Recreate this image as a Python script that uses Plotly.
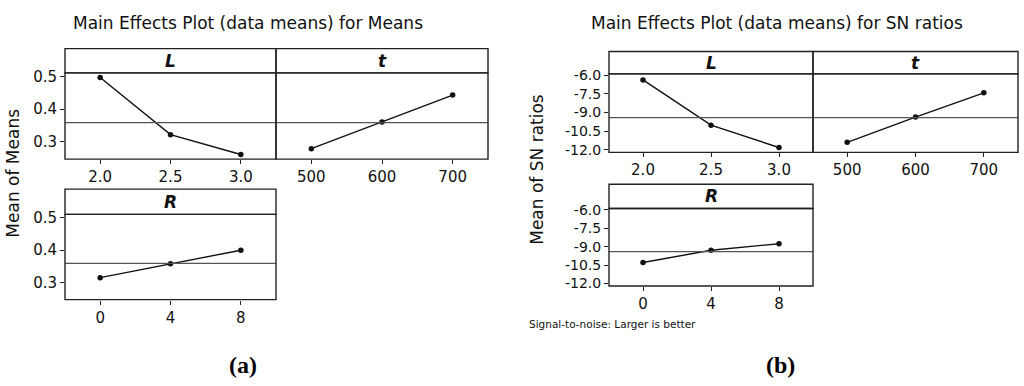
import plotly.graph_objects as go

# ---------------- data ----------------
L_levels = [2.0, 2.5, 3.0]
t_levels = [500, 600, 700]
R_levels = [0, 4, 8]

means_L = [0.497, 0.322, 0.261]
means_t = [0.279, 0.361, 0.443]
means_R = [0.315, 0.358, 0.400]
grand_mean_means = 0.359

sn_L = [-6.39, -10.02, -11.81]
sn_t = [-11.40, -9.37, -7.42]
sn_R = [-10.29, -9.29, -8.76]
grand_mean_sn = -9.41

means_yticks = [0.3, 0.4, 0.5]
means_yticklabels = ["0.3", "0.4", "0.5"]
sn_yticks = [-12.0, -10.5, -9.0, -7.5, -6.0]
sn_yticklabels = ["-12.0", "-10.5", "-9.0", "-7.5", "-6.0"]
L_ticklabels = ["2.0", "2.5", "3.0"]
t_ticklabels = ["500", "600", "700"]
R_ticklabels = ["0", "4", "8"]

# ---------------- layout helpers ----------------
W, H = 1024, 386
FONT = "DejaVu Sans"
LINE = "#222222"
BOXW = 1.4


def px_x(a, b):
    return [a / W, b / W]


def px_y(top, bottom):
    return [1 - bottom / H, 1 - top / H]


fig = go.Figure()

panels = [
    (1, (65, 276), (68, 157), 43, "L", L_levels, means_L, L_ticklabels, [1.75, 3.25], "means", True),
    (2, (276, 488), (68, 157), 43, "t", t_levels, means_t, t_ticklabels, [450, 750], "means", False),
    (3, (65, 276), (214, 302), 188, "R", R_levels, means_R, R_ticklabels, [-2, 10], "means", True),
    (4, (609, 813), (69, 150), 46, "L", L_levels, sn_L, L_ticklabels, [1.75, 3.25], "sn", True),
    (5, (813, 1018), (69, 150), 46, "t", t_levels, sn_t, t_ticklabels, [450, 750], "sn", False),
    (6, (609, 813), (208, 288), 183, "R", R_levels, sn_R, R_ticklabels, [-2, 10], "sn", True),
]

shapes = []
annotations = []

for idx, xb, yb, strip_top, label, xv, yv, xtl, xr, kind, showy in panels:
    sfx = "" if idx == 1 else str(idx)
    xname, yname = "xaxis" + sfx, "yaxis" + sfx
    xref, yref = "x" + sfx, "y" + sfx
    if kind == "means":
        yrange = [0.247, 0.511]
        ytv, ytt = means_yticks, means_yticklabels
        gm = grand_mean_means
        ysize = 15
    else:
        yrange = [-12.2, -5.9]
        ytv, ytt = sn_yticks, sn_yticklabels
        gm = grand_mean_sn
        ysize = 14

    fig.add_trace(go.Scatter(
        x=xv, y=yv, xaxis=xref, yaxis=yref, mode="lines+markers",
        line=dict(color="#111111", width=1.4),
        marker=dict(color="#111111", size=5.5),
        showlegend=False, hoverinfo="x+y", cliponaxis=False,
    ))

    fig.layout[xname] = dict(
        domain=px_x(*xb), range=xr, anchor=yref,
        tickvals=xv, ticktext=xtl, ticks="outside", ticklen=4, tickcolor=LINE,
        tickwidth=1.2, showline=False,
        showgrid=False, zeroline=False,
        tickfont=dict(family=FONT, size=15, color="#111111"),
    )
    fig.layout[yname] = dict(
        domain=px_y(*yb), range=yrange, anchor=xref,
        tickvals=ytv, ticktext=ytt,
        ticks="outside" if showy else "", ticklen=4, tickcolor=LINE, tickwidth=1.2,
        showticklabels=showy, showline=False,
        showgrid=False, zeroline=False,
        tickfont=dict(family=FONT, size=ysize, color="#111111"),
    )

    # grand-mean reference line
    shapes.append(dict(type="line", xref=xref + " domain", yref=yref,
                       x0=0, x1=1, y0=gm, y1=gm,
                       line=dict(color="#555555", width=1.2)))
    # data-area box
    shapes.append(dict(type="rect", xref="paper", yref="paper",
                       x0=xb[0] / W, x1=xb[1] / W,
                       y0=1 - yb[1] / H, y1=1 - yb[0] / H,
                       line=dict(color=LINE, width=BOXW), fillcolor="rgba(0,0,0,0)"))
    # strip box
    shapes.append(dict(type="rect", xref="paper", yref="paper",
                       x0=xb[0] / W, x1=xb[1] / W,
                       y0=1 - yb[0] / H, y1=1 - strip_top / H,
                       line=dict(color=LINE, width=BOXW), fillcolor="rgba(0,0,0,0)"))
    annotations.append(dict(
        text="<b><i>%s</i></b>" % label, xref="paper", yref="paper",
        x=(xb[0] + xb[1]) / 2 / W, y=1 - (strip_top + yb[0]) / 2 / H,
        showarrow=False, xanchor="center", yanchor="middle",
        font=dict(family=FONT, size=17, color="#111111"),
    ))

# titles and labels
extra = [
    dict(text="Main Effects Plot (data means) for Means", x=248 / W, y=1 - 16 / H,
         font=dict(family=FONT, size=17, color="#111111")),
    dict(text="Main Effects Plot (data means) for SN ratios", x=777 / W, y=1 - 16 / H,
         font=dict(family=FONT, size=17, color="#111111")),
    dict(text="Mean of Means", x=13 / W, y=1 - 172 / H, textangle=-90,
         font=dict(family=FONT, size=17, color="#111111")),
    dict(text="Mean of SN ratios", x=537 / W, y=1 - 168 / H, textangle=-90,
         font=dict(family=FONT, size=17, color="#111111")),
    dict(text="Signal-to-noise: Larger is better", x=527 / W, y=1 - 327 / H, xanchor="left",
         font=dict(family=FONT, size=10.5, color="#111111")),
    dict(text="<b>(a)</b>", x=243 / W, y=1 - 369 / H,
         font=dict(family="Liberation Serif", size=24, color="#000000")),
    dict(text="<b>(b)</b>", x=780 / W, y=1 - 369 / H,
         font=dict(family="Liberation Serif", size=24, color="#000000")),
]
for a in extra:
    a.setdefault("xref", "paper")
    a.setdefault("yref", "paper")
    a.setdefault("showarrow", False)
    a.setdefault("xanchor", "center")
    a.setdefault("yanchor", "middle")
annotations += extra

fig.update_layout(
    width=W, height=H, margin=dict(l=0, r=0, t=0, b=0),
    paper_bgcolor="white", plot_bgcolor="white",
    shapes=shapes, annotations=annotations, showlegend=False,
    font=dict(family=FONT),
)

fig.write_html(
    "out.html",
    config={"displayModeBar": False},
    post_script="document.body.style.margin='0';document.body.style.overflow='hidden';",
)
